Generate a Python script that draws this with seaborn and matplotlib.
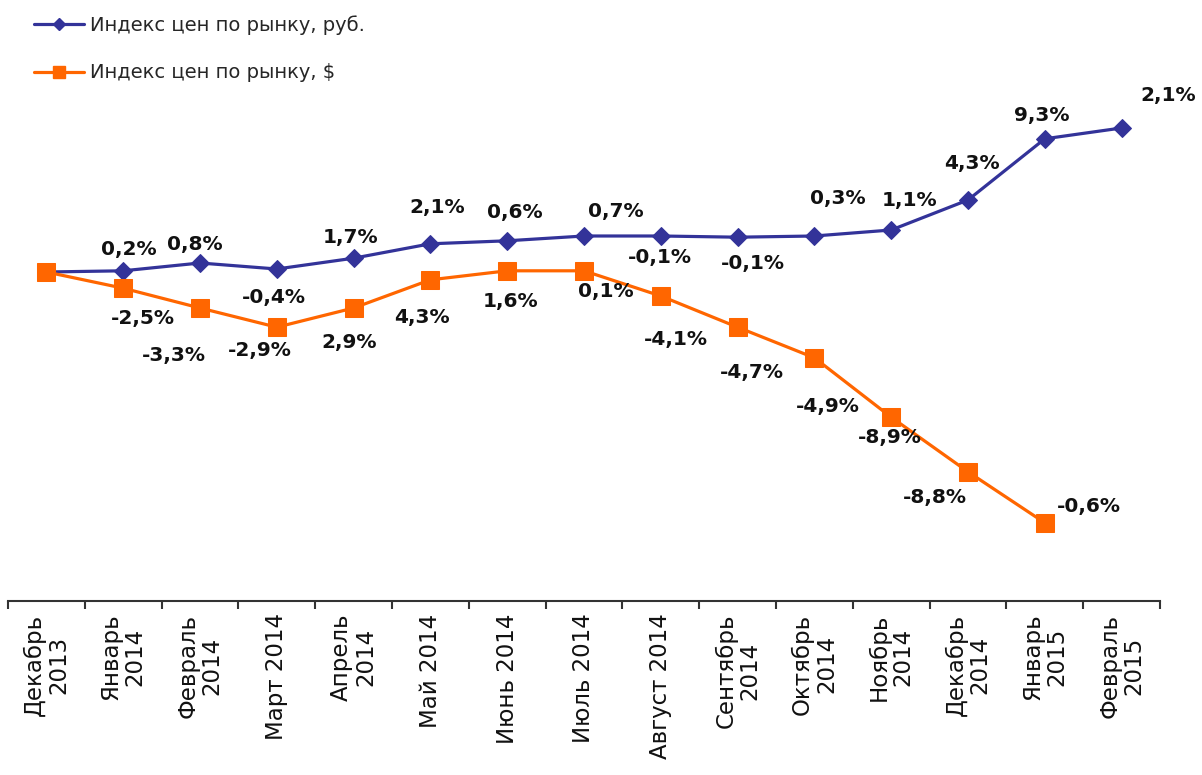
import numpy as np
import seaborn as sns
import matplotlib.pyplot as plt
from matplotlib.lines import Line2D

# month categories (x axis)
months = ["Декабрь\n2013", "Январь\n2014", "Февраль\n2014", "Март 2014", "Апрель\n2014",
          "Май 2014", "Июнь 2014", "Июль 2014", "Август 2014", "Сентябрь\n2014",
          "Октябрь\n2014", "Ноябрь\n2014", "Декабрь\n2014", "Январь\n2015", "Февраль\n2015"]

# price index (Dec 2013 = 100)
rub_index = [100.0, 100.2, 101.5, 100.5, 102.3, 104.7, 105.2, 106.0, 106.0, 105.8,
             106.0, 107.0, 112.0, 122.2, 124.0]
usd_index = [100.0, 97.3, 94.0, 90.8, 94.0, 98.7, 100.2, 100.2, 96.0, 90.8,
             85.7, 75.8, 66.7, 58.2]

# month-over-month change labels (from January 2014 on)
rub_labels = ["0,2%", "0,8%", "-0,4%", "1,7%", "2,1%", "0,6%", "0,7%", "-0,1%", "-0,1%",
              "0,3%", "1,1%", "4,3%", "9,3%", "2,1%"]
usd_labels = ["-2,5%", "-3,3%", "-2,9%", "2,9%", "4,3%", "1,6%", "0,1%", "-4,1%", "-4,7%",
              "-4,9%", "-8,9%", "-8,8%", "-0,6%"]

# label offsets from their point, in pixels (dx, dy; dy positive = down)
rub_offsets = [(6, -21), (-5, -18), (-3, 29), (-3, -21), (7, -36), (8, -28), (32, -24),
               (-1, 22), (15, 26), (23, -37), (18, -29), (4, -36), (-3, -23), (47, -32)]
usd_offsets = [(20, 30), (-26, 47), (-17, 23), (-4, 34), (-8, 38), (3, 31), (22, 21),
               (15, 44), (14, 45), (13, 49), (-1, 20), (-33, 26), (44, -16)]

BLUE = "#333399"
ORANGE = "#FF6600"
DPI = 100

sns.set_style("white")
plt.rcParams['font.family'] = ['DejaVu Sans']

fig = plt.figure(figsize=(12.02, 7.75), dpi=DPI)
ax = fig.add_axes([8 / 1202, 174 / 775, 1152 / 1202, 601 / 775])

x_rub = np.arange(len(rub_index))
x_usd = np.arange(len(usd_index))
sns.lineplot(x=x_rub, y=rub_index, ax=ax, color=BLUE, linewidth=2.3, marker="D",
             markersize=9.5, markeredgecolor=BLUE)
sns.lineplot(x=x_usd, y=usd_index, ax=ax, color=ORANGE, linewidth=2.3, marker="s",
             markersize=13, markeredgecolor=ORANGE)
ax.lines[0].set_zorder(3)
ax.lines[1].set_zorder(4)

# data labels
px = 72.0 / DPI
for i, (lab, (dx, dy)) in enumerate(zip(rub_labels, rub_offsets)):
    ax.annotate(lab, (x_rub[i + 1], rub_index[i + 1]), xytext=(dx * px, -dy * px),
                textcoords="offset points", ha="center", va="center",
                fontsize=14.5, fontweight="bold", color="#111111", zorder=5)
for i, (lab, (dx, dy)) in enumerate(zip(usd_labels, usd_offsets)):
    ax.annotate(lab, (x_usd[i + 1], usd_index[i + 1]), xytext=(dx * px, -dy * px),
                textcoords="offset points", ha="center", va="center",
                fontsize=14.5, fontweight="bold", color="#111111", zorder=5)

# axes styling: only the bottom axis, with ticks between categories
ax.set_xlim(-0.5, len(months) - 0.5)
ax.set_ylim(45.17, 145.33)
ax.set_yticks([])
for s in ["left", "right", "top"]:
    ax.spines[s].set_visible(False)
ax.spines["bottom"].set_color("#333333")
ax.spines["bottom"].set_linewidth(1.5)
ax.set_xticks(np.arange(len(months)))
ax.set_xticklabels(months, rotation=90, fontsize=16.5, ha="center", va="top",
                   multialignment="center", color="#111111", linespacing=1.05)
ax.set_xticks(np.arange(len(months) + 1) - 0.5, minor=True)
ax.tick_params(axis="x", which="major", length=0, pad=9)
ax.tick_params(axis="x", which="minor", length=6, width=1.5, color="#333333",
               direction="out", bottom=True)
ax.patch.set_visible(False)

# legend in the top-left corner
handles = [Line2D([], [], color=BLUE, linewidth=2.3, marker="D", markersize=6),
           Line2D([], [], color=ORANGE, linewidth=2.3, marker="s", markersize=8)]
fig.legend(handles, ["Индекс цен по рынку, руб.", "Индекс цен по рынку, $"],
           loc="upper left", bbox_to_anchor=(16 / 1202, 1 + 2 / 775), frameon=False,
           fontsize=14, handlelength=2.6, handletextpad=0.3, labelspacing=1.45)

fig.savefig("out.png", dpi=DPI)
